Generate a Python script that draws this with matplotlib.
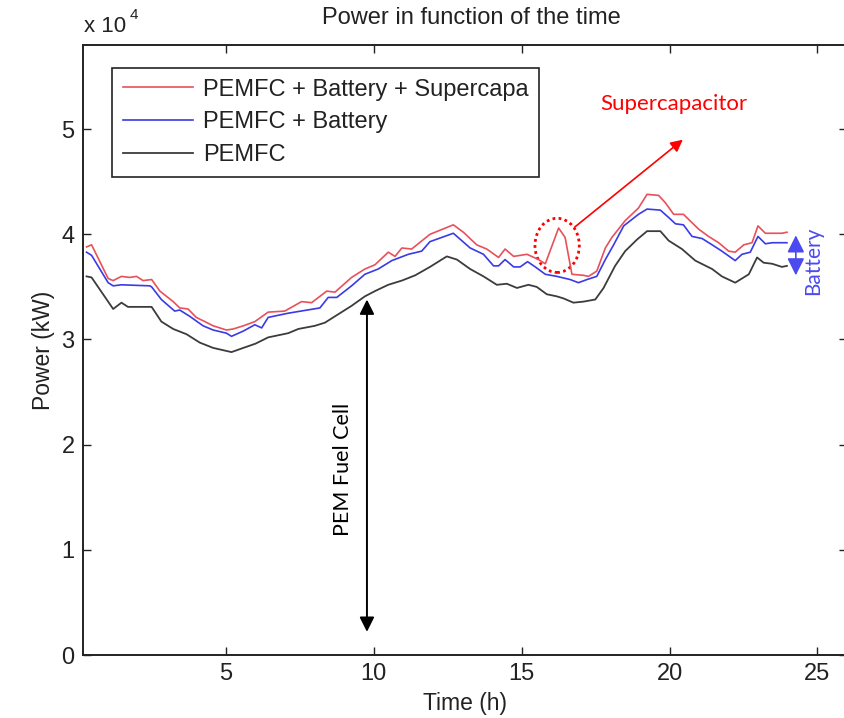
import matplotlib
matplotlib.use("Agg")
import matplotlib.pyplot as plt
from matplotlib.patches import Ellipse
from matplotlib.ticker import FuncFormatter, FixedLocator

# ---------------- data (time in h, power in kW) ----------------
t_sc = [0.29, 0.46, 1.02, 1.19, 1.47, 1.75, 1.98, 2.20, 2.49, 2.77, 3.22, 3.44, 3.72, 4.00,
        4.29, 4.57, 5.02, 5.25, 5.59, 5.98, 6.43, 6.99, 7.56, 7.90, 8.41, 8.69, 9.25, 9.70,
        10.04, 10.49, 10.72, 10.95, 11.28, 11.90, 12.69, 13.03, 13.48, 13.82, 14.22, 14.44,
        14.73, 15.18, 15.57, 15.80, 16.25, 16.47, 16.70, 17.09, 17.26, 17.54, 17.83, 18.05,
        18.50, 18.95, 19.24, 19.63, 19.86, 20.14, 20.47, 20.98, 21.32, 21.66, 22.00, 22.22,
        22.51, 22.79, 22.99, 23.24, 23.47, 23.80, 23.97]
p_sc = [38800, 39000, 35800, 35600, 36000, 35900, 36000, 35600, 35700, 34600, 33600, 33000,
        32900, 32100, 31700, 31300, 30900, 31000, 31300, 31700, 32600, 32700, 33600, 33500,
        34600, 34500, 35900, 36700, 37100, 38300, 37900, 38700, 38600, 40000, 40900, 40200,
        39000, 38600, 37800, 38600, 37900, 38100, 37600, 37200, 40600, 39700, 36200, 36100,
        36000, 36500, 38700, 39700, 41300, 42500, 43800, 43700, 43000, 41900, 41900, 40500,
        39800, 39200, 38400, 38300, 39000, 39200, 40800, 40100, 40100, 40100, 40200]

t_bat = [0.29, 0.46, 1.02, 1.19, 1.47, 2.43, 2.49, 2.82, 3.27, 3.44, 3.78, 4.23, 4.57, 5.02,
         5.19, 5.59, 5.98, 6.21, 6.43, 7.11, 8.18, 8.46, 8.75, 9.25, 9.70, 10.15, 10.61, 11.17,
         11.62, 11.90, 12.69, 13.26, 13.71, 14.05, 14.22, 14.44, 14.73, 14.95, 15.20, 15.46,
         15.80, 16.19, 16.64, 16.92, 17.21, 17.54, 17.83, 18.11, 18.45, 18.95, 19.24, 19.69,
         19.97, 20.20, 20.47, 20.76, 21.10, 21.44, 21.77, 22.22, 22.45, 22.73, 22.99, 23.24,
         23.47, 23.97]
p_bat = [38300, 38000, 35400, 35100, 35200, 35100, 35000, 33800, 32700, 32800, 32200, 31300,
         30900, 30600, 30300, 30800, 31400, 31100, 32100, 32500, 33000, 34000, 34000, 35100,
         36200, 36700, 37500, 38100, 38400, 39300, 40100, 38700, 38100, 37000, 37000, 37600,
         36900, 36900, 37400, 36900, 36200, 36000, 35700, 35400, 35700, 36000, 37600, 39000,
         40800, 41900, 42400, 42300, 41600, 41000, 40900, 39800, 39600, 39000, 38400, 37500,
         38100, 38300, 39800, 39100, 39200, 39200]

t_fc = [0.29, 0.46, 1.19, 1.47, 1.69, 2.49, 2.82, 3.22, 3.67, 4.12, 4.57, 5.19, 5.59, 6.00,
        6.43, 7.11, 7.45, 8.01, 8.35, 8.80, 9.25, 9.70, 10.04, 10.49, 10.95, 11.40, 11.90,
        12.47, 12.81, 13.26, 13.71, 14.16, 14.50, 14.84, 15.23, 15.51, 15.85, 16.19, 16.42,
        16.75, 17.09, 17.49, 17.77, 18.16, 18.50, 18.90, 19.24, 19.69, 19.97, 20.42, 20.87,
        21.44, 21.77, 22.22, 22.68, 22.96, 23.18, 23.47, 23.80, 23.97]
p_fc = [36000, 35900, 32900, 33500, 33100, 33100, 31700, 31000, 30500, 29700, 29200, 28800,
        29200, 29600, 30200, 30600, 31000, 31300, 31600, 32400, 33200, 34100, 34600, 35200,
        35600, 36100, 36900, 37900, 37600, 36700, 36000, 35200, 35300, 34900, 35200, 35000,
        34300, 34100, 33900, 33500, 33600, 33800, 34900, 37000, 38400, 39500, 40300, 40300,
        39400, 38600, 37500, 36700, 36000, 35400, 36200, 37800, 37300, 37200, 36900, 37000]

labels = ["PEMFC + Battery + Supercapa", "PEMFC + Battery", "PEMFC"]
x_ticks = [5, 10, 15, 20, 25]
y_ticks = [0, 10000, 20000, 30000, 40000, 50000]

# ---------------- figure ----------------
plt.rcParams['font.family'] = ['Liberation Sans', 'DejaVu Sans']
W, H = 844, 718
fig = plt.figure(figsize=(W / 100, H / 100), dpi=100)
L, R, T, B = 83, 847, 45, 655
ax = fig.add_axes([L / W, (H - B) / H, (R - L) / W, (B - T) / H])

c_red = '#e8505a'
c_blue = '#3a3ae6'
c_black = '#3c3c3c'
ax.plot(t_sc, p_sc, color=c_red, lw=1.2, label=labels[0])
ax.plot(t_bat, p_bat, color=c_blue, lw=1.2, label=labels[1])
ax.plot(t_fc, p_fc, color=c_black, lw=1.3, label=labels[2])

ax.set_xlim(0.17, 26)
ax.set_ylim(0, 58000)
ax.xaxis.set_major_locator(FixedLocator(x_ticks))
ax.yaxis.set_major_locator(FixedLocator(y_ticks))
ax.yaxis.set_major_formatter(FuncFormatter(lambda v, p: f"{v / 1e4:g}"))
ax.tick_params(direction='in', length=6, width=1.0, labelsize=17, top=True, right=True,
               pad=6, colors='#222222', labelcolor='#222222')
for s in ax.spines.values():
    s.set_linewidth(1.4)
    s.set_color('#222222')

ax.set_xlabel("Time (h)", fontsize=16.5, labelpad=5, color='#222222')
ax.set_ylabel("Power (kW)", fontsize=16.5, labelpad=5, color='#222222')
fig.text(471 / W, 1 - 18 / H, "Power in function of the time", ha='center', va='center',
         fontsize=17, color='#222222')
fig.text(84 / W, 1 - 26 / H, "x 10", ha='left', va='center', fontsize=16, color='#222222')
fig.text(130 / W, 1 - 15 / H, "4", ha='left', va='center', fontsize=11, color='#222222')

leg = ax.legend(loc='upper left', bbox_to_anchor=((112 - L) / (R - L), (B - 68) / (B - T)),
                borderaxespad=0, fontsize=17, frameon=True, fancybox=False,
                edgecolor='#222222', framealpha=1, handlelength=3.0, handletextpad=0.4,
                labelspacing=0.45, borderpad=0.45)
leg.get_frame().set_linewidth(1.2)
for txt in leg.get_texts():
    txt.set_color('#222222')

# ---------------- annotations ----------------
ann_font = ['Lato', 'DejaVu Sans']
ax.add_patch(Ellipse((16.2, 38950), 1.5, 5150, fill=False, edgecolor='red', lw=2.0,
                     linestyle=(0, (1, 1.2))))
ax.annotate("", xy=(20.45, 49000), xytext=(16.8, 40700),
            arrowprops=dict(arrowstyle='-|>', color='red', lw=1.2, mutation_scale=18,
                            shrinkA=0, shrinkB=0))
ax.text(20.15, 52400, "Supercapacitor", color='#ff0000', fontsize=16, family=ann_font,
        ha='center', va='center')

ax.annotate("", xy=(9.77, 2200), xytext=(9.77, 33800),
            arrowprops=dict(arrowstyle='<|-|>', color='black', lw=1.4, mutation_scale=22,
                            shrinkA=0, shrinkB=0))
ax.text(8.95, 17600, "PEM Fuel Cell", rotation=90, color='black', fontsize=15.5,
        family=ann_font, ha='center', va='center')

ax.annotate("", xy=(24.27, 36100), xytext=(24.27, 39900),
            arrowprops=dict(arrowstyle='<|-|>', color='#4a4af0', lw=1.2, mutation_scale=26,
                            shrinkA=0, shrinkB=0))
ax.text(24.85, 37500, "Battery", rotation=90, color='#4a4af0', fontsize=15,
        family=ann_font, ha='center', va='center')

fig.savefig("out.png", dpi=100)
